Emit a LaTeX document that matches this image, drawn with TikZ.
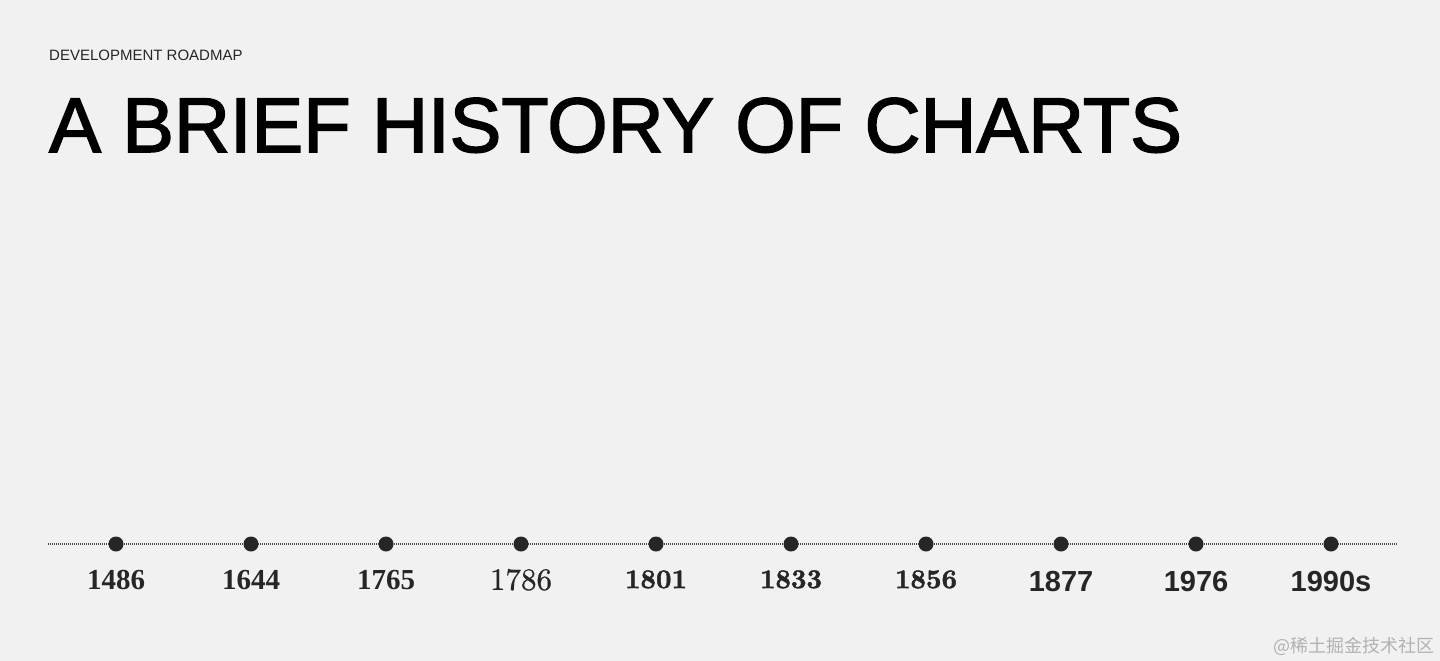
\documentclass[tikz,border=0pt]{standalone}
\usepackage{fontspec}
\newfontfamily\serifbold{Liberation Serif}
\newfontfamily\sansbold{Liberation Sans}
\newfontfamily\headfont{Liberation Sans}[FakeBold=2]
\newfontfamily\didonebold{lmroman10-bold.otf}[FakeBold=1.6]
\newfontfamily\didonethin{lmroman10-regular.otf}[FakeBold=0.8]
\newfontfamily\cjkfont{Noto Sans CJK SC}
\usepackage{tikz}
\usetikzlibrary{
	positioning
}
\usepackage{xcolor}

\definecolor{paper}{HTML}{F1F1F1}
\definecolor{ink}{HTML}{262626}
\definecolor{marker}{HTML}{B2B2B2}

\tikzset{
	yeardot/.style={circle,fill=ink,inner sep=0pt,minimum size=15pt},
	yearbase/.style={inner sep=0pt,text=ink},
	oldyear/.style={yearbase,font=\serifbold\bfseries\fontsize{29}{32}\selectfont},
	thinyear/.style={yearbase,font=\didonethin\fontsize{31}{34}\selectfont},
	didoneyear/.style={yearbase,font=\didonebold\fontsize{27}{32}\selectfont},
	newyear/.style={yearbase,font=\sansbold\bfseries\fontsize{29}{32}\selectfont}
}

\begin{document}
\begin{tikzpicture}[x=1pt,y=1pt]
			
			\fill[paper] (0,0) rectangle (1440,-661);
			\useasboundingbox (0,0) rectangle (1440,-661);
			
			% heading
			\node[anchor=base west,inner sep=0pt,text=ink,font=\sansbold\fontsize{15}{17}\selectfont] (kicker) at (49,-60){DEVELOPMENT ROADMAP};
			\node[anchor=base west,inner sep=0pt,text=black,font=\headfont\fontsize{77.5}{84}\selectfont] (title) at (49,-152){A BRIEF HISTORY OF CHARTS};
			
			% timeline
			\coordinate (lineL) at (48,-544);
			\coordinate (lineR) at (1398,-544);
			\draw[ink!85,line width=1.2pt,dash pattern=on 1pt off 1pt](lineL)--(lineR);
			
			\node[yeardot] (d1486) at (116,-544){};
			\node[yeardot] (d1644) at (251,-544){};
			\node[yeardot] (d1765) at (386,-544){};
			\node[yeardot] (d1786) at (521,-544){};
			\node[yeardot] (d1801) at (656,-544){};
			\node[yeardot] (d1833) at (791,-544){};
			\node[yeardot] (d1856) at (926,-544){};
			\node[yeardot] (d1877) at (1061,-544){};
			\node[yeardot] (d1976) at (1196,-544){};
			\node[yeardot] (d1990) at (1331,-544){};
			
			\node[oldyear,below=18.5pt of d1486] (y1486){1486};
			\node[oldyear,below=18.5pt of d1644] (y1644){1644};
			\node[oldyear,below=18.5pt of d1765] (y1765){1765};
			\node[thinyear,below=17pt of d1786] (y1786){1786};
			\node[didoneyear,below=18.5pt of d1801] (y1801){1801};
			\node[didoneyear,below=18.5pt of d1833] (y1833){1833};
			\node[didoneyear,below=18.5pt of d1856] (y1856){1856};
			\node[newyear,below=19pt of d1877] (y1877){1877};
			\node[newyear,below=19pt of d1976] (y1976){1976};
			\node[newyear,below=19pt of d1990] (y1990){1990s};
			
			% watermark
			\node[anchor=base east,inner sep=0pt,text=marker,font=\cjkfont\fontsize{18}{20}\selectfont] (mark) at (1435,-652){@稀土掘金技术社区};
			
		\end{tikzpicture}
\end{document}
